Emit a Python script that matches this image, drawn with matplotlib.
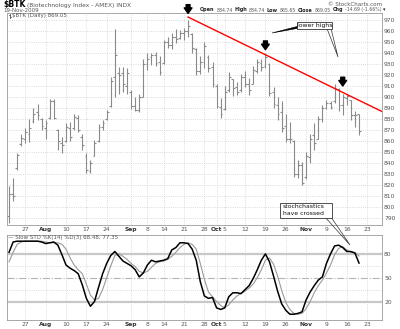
import matplotlib
matplotlib.use('Agg')
import matplotlib.pyplot as plt
from matplotlib.patches import Polygon, Rectangle
import numpy as np

W, H = 400, 329

# daily bars, 21-Jul-2009 .. 19-Nov-2009 (Labor Day skipped)
opens = [792, 812, 835, 857, 862, 866, 878, 886, 880, 872,
         881, 896, 870, 858, 860, 872, 872, 881, 864, 846,
         833, 846, 860, 873, 880, 892, 918, 922, 922, 910,
         905, 892, 888, 900, 930, 936, 938, 932, 931, 950,
         947, 955, 954, 958, 960, 957, 944, 924, 932, 936,
         927, 910, 891, 889, 906, 916, 909, 906, 918, 912,
         912, 924, 931, 928, 930, 905, 893, 886, 874, 862,
         860, 830, 838, 827, 845, 865, 862, 880, 890, 895,
         896, 907, 893, 899, 897, 884, 884.74]
highs = [819, 826, 849, 866, 872, 880, 890, 894, 881, 879,
         898, 898, 871, 864, 876, 877, 885, 884, 866, 849,
         843, 861, 875, 879, 888, 918, 962, 927, 927, 926,
         906, 900, 903, 935, 940, 940, 941, 937, 952, 955,
         958, 962, 961, 963, 970, 958, 945, 937, 950, 938,
         932, 912, 899, 910, 923, 916, 914, 921, 924, 917,
         928, 935, 935, 940, 931, 909, 900, 896, 885, 877,
         861, 843, 841, 850, 866, 876, 883, 893, 897, 896,
         912, 908, 903, 903, 897, 887, 884.74]
lows = [785, 805, 834, 855, 858, 859, 876, 879, 870, 862,
        880, 880, 852, 849, 859, 860, 870, 868, 852, 831,
        831, 846, 859, 870, 879, 891, 900, 903, 905, 903,
        889, 887, 886, 900, 925, 929, 928, 920, 930, 945,
        944, 949, 953, 952, 955, 940, 920, 921, 926, 923,
        909, 890, 881, 888, 905, 901, 902, 905, 909, 902,
        912, 922, 924, 926, 901, 890, 879, 868, 859, 858,
        827, 826, 820, 825, 840, 852, 862, 877, 889, 889,
        895, 887, 884, 893, 879, 873, 865.65]
closes = [812, 810, 847, 863, 868, 872, 885, 884, 874, 876,
          896, 881, 860, 856, 873, 864, 882, 870, 856, 834,
          840, 858, 873, 876, 886, 915, 938, 920, 912, 922,
          892, 888, 900, 930, 935, 938, 931, 923, 950, 947,
          955, 953, 958, 960, 965, 945, 924, 932, 946, 926,
          912, 892, 885, 905, 918, 908, 905, 918, 912, 906,
          925, 932, 927, 936, 904, 894, 885, 872, 862, 862,
          830, 838, 822, 846, 862, 858, 880, 890, 895, 891,
          908, 893, 900, 901, 884, 883.74, 869.05]

# slow stochastics %K(14) %D(3)
stoch_k = [82, 95, 96, 96, 96, 96, 96, 96, 95, 93,
           94, 95, 91, 79, 66, 62, 59, 55, 41, 24,
           14, 20, 38, 55, 68, 78, 83, 77, 71, 68,
           65, 60, 51, 56, 66, 72, 70, 71, 72, 74,
           85, 88, 94, 94, 93, 86, 72, 45, 27, 24,
           25, 12, 10, 12, 26, 31, 31, 30, 35, 40,
           49, 60, 72, 80, 70, 52, 33, 17, 9, 4,
           4, 5, 7, 22, 32, 40, 47, 51, 68, 80,
           90, 91, 88, 83, 83, 81, 68.48]
stoch_d = [70, 82, 92, 95, 96, 96, 96, 96, 96, 95,
           94, 94, 94, 92, 86, 75, 66, 60, 55, 42,
           28, 22, 24, 35, 50, 65, 78, 80, 77, 73,
           68, 64, 58, 56, 58, 63, 68, 70, 71, 73,
           77, 82, 88, 92, 94, 92, 86, 68, 48, 32,
           26, 20, 15, 12, 16, 22, 27, 30, 33, 37,
           42, 50, 60, 72, 75, 67, 52, 34, 19, 10,
           5, 4, 5, 11, 20, 31, 40, 47, 56, 66,
           79, 87, 89, 85, 82, 82, 77.35]

# date axis labels (trading-day index)
tick_pos = [4, 9, 14, 19, 24, 30, 34, 38, 43, 48, 51, 53, 58, 63, 68, 73, 78, 83, 88]
tick_lbl = ['27', 'Aug', '10', '17', '24', 'Sep', '8', '14', '21', '28', 'Oct',
            '5', '12', '19', '26', 'Nov', '9', '16', '23']
months = {'Aug', 'Sep', 'Oct', 'Nov'}

# trend line through the peaks, and the arrowed highs
trend_x = [44, 91.65]
trend_y = [972.7, 886.8]
peak_idx = [44, 63, 82]
peak_tip = [976, 943, 910]

quote = [('Open', True), ('884.74', False), ('High', True), ('884.74', False),
         ('Low', True), ('865.65', False), ('Close', True), ('869.05', False),
         ('Chg', True), ('-14.69 (-1.66%)', False), ('\u25be', True)]

bar_c = '#8a8a8a'
grid_c = '#cfcfcf'
txt_c = '#555555'


def px(x, y):
    return (x / W, 1 - y / H)


fig = plt.figure(figsize=(4, 3.29), dpi=100)
fig.patch.set_facecolor('white')
ax = fig.add_axes([7 / W, 1 - 225 / H, 375 / W, 212 / H])
ax2 = fig.add_axes([7 / W, 1 - 320 / H, 375 / W, 85 / H])

xs = np.arange(len(closes))

# price panel
ax.vlines(xs, lows, highs, color=bar_c, lw=0.8)
ax.hlines(opens, xs - 0.45, xs, color=bar_c, lw=0.8)
ax.hlines(closes, xs, xs + 0.45, color=bar_c, lw=0.8)
ax.plot(trend_x, trend_y, color='#ff0000', lw=1.0)
for i, tip in zip(peak_idx, peak_tip):
    ax.annotate('', xy=(i, tip), xytext=(i, tip + 8),
                arrowprops=dict(arrowstyle='simple,head_length=0.5,head_width=0.7,tail_width=0.35',
                                color='black', mutation_scale=8, shrinkA=0, shrinkB=0),
                annotation_clip=False)

ax.set_xlim(-0.5, 91.65)
ax.set_ylim(783.6, 976.4)
ax.yaxis.tick_right()
ax.set_yticks(range(790, 971, 10))
ax.set_xticks(tick_pos)
ax.set_xticklabels(tick_lbl)
ax.grid(True, color=grid_c, ls=':', lw=0.6)
ax.tick_params(length=0, labelsize=4.3, colors=txt_c, pad=1.5)
ax.tick_params(axis='x', pad=1.2)

# stochastics panel
ax2.axhline(80, color='#c8c8c8', lw=1.6)
ax2.axhline(20, color='#c8c8c8', lw=1.6)
ax2.axhline(50, color='#b5b5b5', lw=0.8, ls='-.')
for lvl in (35, 65):
    ax2.axhline(lvl, color=grid_c, lw=0.6, ls=':')
ax2.plot(xs, stoch_d, color='#9a9a9a', lw=0.8)
ax2.plot(xs, stoch_k, color='black', lw=1.1)
ax2.set_xlim(-0.5, 91.65)
ax2.set_ylim(-3.3, 103.8)
ax2.yaxis.tick_right()
ax2.set_yticks([20, 50, 80])
ax2.set_xticks(tick_pos)
ax2.set_xticklabels(tick_lbl)
ax2.grid(True, axis='x', color=grid_c, ls=':', lw=0.6)
ax2.tick_params(length=0, labelsize=4.3, colors=txt_c, pad=1.5)
ax2.tick_params(axis='x', pad=1.2)
ax2.text(0.004, 0.995, '\u2014 Slow STO %K(14) %D(3) 68.48, 77.35', transform=ax2.transAxes,
         ha='left', va='top', fontsize=4, color=txt_c)

for a in (ax, ax2):
    for sp in a.spines.values():
        sp.set_color('#9a9a9a')
        sp.set_linewidth(0.6)
    for t in a.get_xticklabels():
        if t.get_text() in months:
            t.set_fontweight('bold')
            t.set_color('#333333')

# header
fig.text(*px(3, 5), '$BTK', fontsize=5.5, fontweight='bold', va='center', ha='left')
fig.text(*px(27, 5), '(Biotechnology Index - AMEX) INDX', fontsize=4.2, color=txt_c,
         va='center', ha='left')
fig.text(*px(3, 11), '19-Nov-2009', fontsize=4, color=txt_c, va='center', ha='left')
fig.text(*px(382, 4), '\u00a9 StockCharts.com', fontsize=4, color=txt_c, va='center', ha='right')

# quote line, laid out piece by piece
renderer = fig.canvas.get_renderer()
qx = 200
for s, bold in quote:
    t = fig.text(*px(qx, 10), s, fontsize=3.5 if bold else 3.3, va='center', ha='left',
                 fontweight='bold' if bold else 'normal', color='#222222' if bold else txt_c)
    qx += t.get_window_extent(renderer).width + 1.8

# series legend inside price panel
fig.text(*px(12, 15.8), '$BTK (Daily) 869.05', fontsize=4, color=txt_c, va='center', ha='left')
fig.add_artist(plt.Line2D([9.5 / W, 9.5 / W], [1 - 13.8 / H, 1 - 18 / H], color=txt_c, lw=0.6))
fig.add_artist(plt.Line2D([8.5 / W, 9.5 / W], [1 - 15 / H, 1 - 15 / H], color=txt_c, lw=0.6))
fig.add_artist(plt.Line2D([9.5 / W, 10.5 / W], [1 - 16.5 / H, 1 - 16.5 / H], color=txt_c, lw=0.6))

# "lower highs" callout
fig.add_artist(Polygon([px(298, 26.3), px(298, 28.3), px(272, 33)], closed=True,
                       facecolor='black', edgecolor='black', lw=0.4))
fig.add_artist(Polygon([px(327, 28.5), px(331, 28.5), px(338, 57)], closed=True,
                       facecolor='white', edgecolor='#333333', lw=0.5))
fig.add_artist(Rectangle(px(297, 29), 35 / W, 7 / H, facecolor='white',
                         edgecolor='#333333', lw=0.6))
fig.text(*px(314.5, 25.5), 'lower highs', fontsize=4.4, va='center', ha='center', color='#111111')

# "stochastics have crossed" callout
fig.add_artist(Polygon([px(325, 217), px(331, 217), px(350, 245)], closed=True,
                       facecolor='none', edgecolor='#333333', lw=0.5))
fig.add_artist(Rectangle(px(280, 217.5), 52 / W, 15 / H, facecolor='white',
                         edgecolor='#333333', lw=0.6))
fig.text(*px(283, 206.5), 'stochchastics', fontsize=4.4, va='center', ha='left', color='#111111')
fig.text(*px(283, 213.5), 'have crossed', fontsize=4.4, va='center', ha='left', color='#111111')

fig.savefig('out.png', dpi=100, facecolor='white')
